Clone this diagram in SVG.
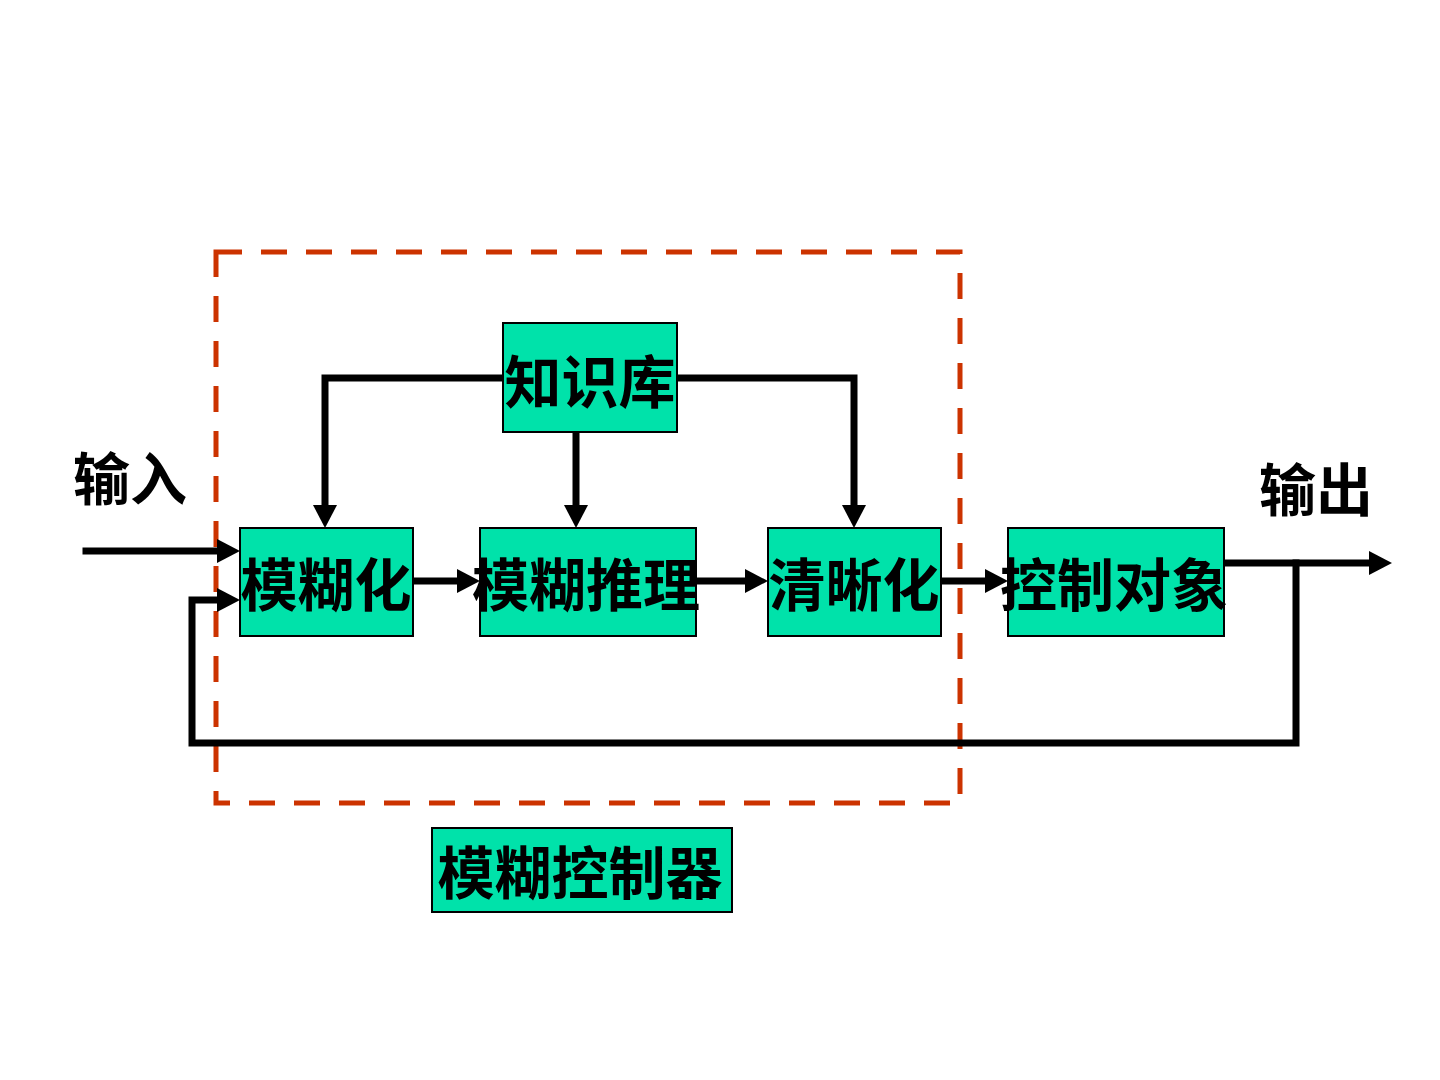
<svg xmlns="http://www.w3.org/2000/svg" width="1440" height="1080" viewBox="0 0 1440 1080">
  <defs>
    <style>
      .node { fill: #00E2AA; stroke: #000; stroke-width: 2; }
      .lbl { font-family: "Noto Sans CJK SC", "Noto Sans", sans-serif; font-weight: 700; font-size: 57px; fill: #000; text-anchor: middle; }
      .wire { fill: none; stroke: #000; stroke-width: 7; stroke-linejoin: miter; stroke-linecap: square; }
      .dash { fill: none; stroke: #CC3300; stroke-width: 5; stroke-dasharray: 26 19; }
    </style>
    <marker id="arr" markerUnits="userSpaceOnUse" markerWidth="26" markerHeight="26" refX="4" refY="12" orient="auto">
      <path d="M0,0 L23,12 L0,24 z" fill="#000"/>
    </marker>
  </defs>
  <rect width="1440" height="1080" fill="#fff"/>

  <g id="controller-boundary">
    <rect class="dash" x="216" y="252" width="744" height="551"/>
  </g>

  <g id="connectors">
    <path class="wire" d="M86,551 L221,551" marker-end="url(#arr)"/>
    <path class="wire" d="M1296,563 L1296,743 L192,743 L192,600 L221,600" marker-end="url(#arr)"/>
    <path class="wire" d="M1224,563 L1373,563" stroke-linecap="butt" marker-end="url(#arr)"/>
    <path class="wire" d="M413,581 L461,581" stroke-linecap="butt" marker-end="url(#arr)"/>
    <path class="wire" d="M696,581 L749,581" stroke-linecap="butt" marker-end="url(#arr)"/>
    <path class="wire" d="M941,581 L989,581" stroke-linecap="butt" marker-end="url(#arr)"/>
    <path class="wire" d="M503,378 L325,378 L325,509" stroke-linecap="butt" marker-end="url(#arr)"/>
    <path class="wire" d="M677,378 L854,378 L854,509" stroke-linecap="butt" marker-end="url(#arr)"/>
    <path class="wire" d="M576,432 L576,509" stroke-linecap="butt" marker-end="url(#arr)"/>
  </g>

  <g id="knowledge-base">
    <rect class="node" x="503" y="323" width="174" height="109"/>
    <text class="lbl" x="590" y="403">知识库</text>
  </g>
  <g id="fuzzification">
    <rect class="node" x="240" y="528" width="173" height="108"/>
    <text class="lbl" x="326" y="606">模糊化</text>
  </g>
  <g id="fuzzy-inference">
    <rect class="node" x="480" y="528" width="216" height="108"/>
    <text class="lbl" x="586" y="606">模糊推理</text>
  </g>
  <g id="defuzzification">
    <rect class="node" x="768" y="528" width="173" height="108"/>
    <text class="lbl" x="854" y="606">清晰化</text>
  </g>
  <g id="plant">
    <rect class="node" x="1008" y="528" width="216" height="108"/>
    <text class="lbl" x="1114" y="606">控制对象</text>
  </g>
  <g id="controller-label">
    <rect class="node" x="432" y="828" width="300" height="84"/>
    <text class="lbl" x="580" y="894">模糊控制器</text>
  </g>
  <g id="input-label">
    <text class="lbl" x="130" y="500">输入</text>
  </g>
  <g id="output-label">
    <text class="lbl" x="1316" y="511">输出</text>
  </g>
</svg>
